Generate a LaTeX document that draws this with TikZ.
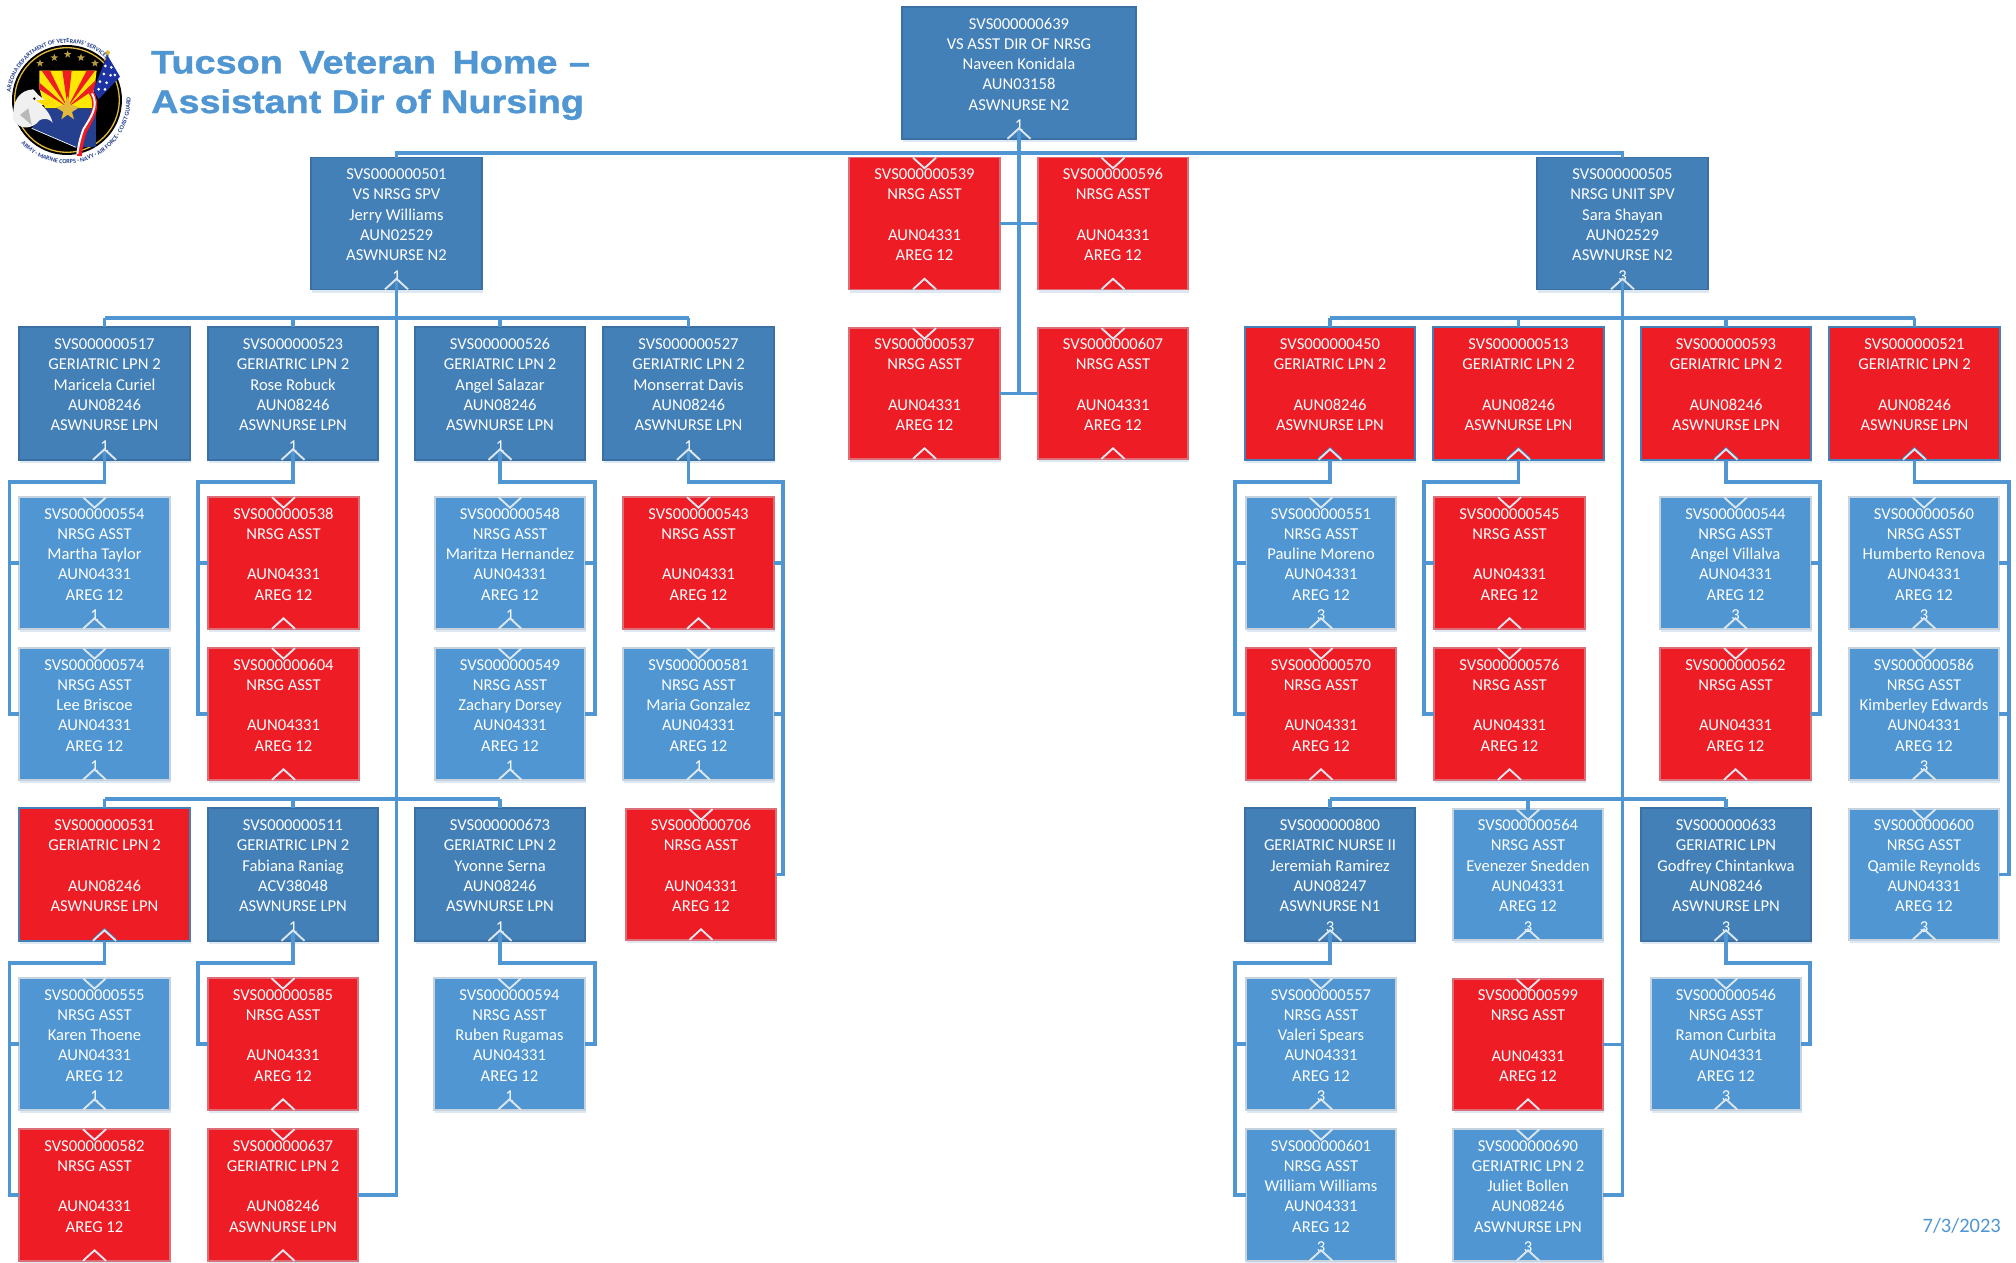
\documentclass[tikz,border=0pt]{standalone}
\usepackage{fontspec}
\setmainfont{Carlito}
\newfontfamily\titlefont[FakeStretch=1.16,FakeBold=1.2]{Liberation Sans}
\usetikzlibrary{shadows,decorations.text}
\definecolor{cdark}{HTML}{4480B8}
\definecolor{clight}{HTML}{5096D2}
\definecolor{cred}{HTML}{EE1C25}
\definecolor{cline}{HTML}{5096D2}
\definecolor{cedgeD}{HTML}{3A70A4}
\definecolor{cedgeL}{HTML}{C6D2DE}
\definecolor{cchev}{HTML}{DCE6EF}
\definecolor{cnavy}{HTML}{24408E}
\definecolor{cgold}{HTML}{E3B93C}
\definecolor{cstar}{HTML}{B79A45}
\tikzset{
  boxbase/.style={rectangle,inner sep=0pt,outer sep=0pt,text=white,align=center,line width=1.2pt,
    font=\fontsize{16.6}{20.3}\selectfont,
    drop shadow={shadow xshift=1pt,shadow yshift=-3pt,fill=cdark,opacity=.18}},
  bdark/.style={boxbase,fill=cdark,draw=cedgeD},
  blight/.style={boxbase,fill=clight,draw=cedgeL},
  bred/.style={boxbase,fill=cred,draw=cred!55!cedgeL},
  bredp/.style={boxbase,fill=cred,draw=cdark},
  conn/.style={draw=cline,line width=3.5pt,line cap=butt,line join=miter},
  chev/.style={draw=cchev,line width=1.9pt,line join=miter},
  chevb/.style={draw=cdark,line width=1.2pt,line join=miter},
  datelabel/.style={text=cline,font=\fontsize{20.5}{24}\selectfont,inner sep=0pt,anchor=base east},
  titlelabel/.style={text=clight,font=\titlefont\bfseries\fontsize{32.6}{38}\selectfont,inner sep=0pt,anchor=base west},
  seal/.style={postaction={decorate},decoration={text along path,text align=center,raise=0pt}}
}
\newcommand\lsx{\rule[-3.35pt]{0pt}{20.3pt}}
\newcommand\six[6]{\lsx#1\\\lsx#2\\\lsx#3\\\lsx#4\\\lsx#5\\\lsx#6}
% \bx{id}{x1}{x2}{y1}{y2}{style}{text}
\newcommand\bx[7]{%
  \pgfmathsetmacro\bxw{#3-#2}\pgfmathsetmacro\bxh{#5-#4}%
  \pgfmathsetmacro\bxx{(#2+#3)/2}\pgfmathsetmacro\bxy{(#4+#5)/2}%
  \node[#6,minimum width=\bxw pt,minimum height=\bxh pt] (n#1) at (\bxx,\bxy) {#7};}
\newcommand\ra[5]{\bx{#1}{#2}{#3}{#4}{#5}{bred}{\six{SVS000000#1}{NRSG ASST}{}{AUN04331}{AREG 12}{}}}
\newcommand\la[7]{\bx{#1}{#2}{#3}{#4}{#5}{blight}{\six{SVS000000#1}{NRSG ASST}{#6}{AUN04331}{AREG 12}{#7}}}
\newcommand\lpn[7]{\bx{#1}{#2}{#3}{#4}{#5}{bdark}{\six{SVS000000#1}{GERIATRIC LPN 2}{#6}{AUN08246}{ASWNURSE LPN}{#7}}}
\newcommand\rpn[6]{\bx{#1}{#2}{#3}{#4}{#5}{#6}{\six{SVS000000#1}{GERIATRIC LPN 2}{}{AUN08246}{ASWNURSE LPN}{}}}
% \sub{parent}{last}{others}{x}{y}{side}
\newcommand\sub[6]{%
  \coordinate (tr#1) at (#4,#5);
  \draw[conn] (n#1.south) |- (tr#1) |- (n#2.#6);
  \foreach \k in {#3} {\draw[conn] (n\k.#6) -- (n\k.#6 -| tr#1);}}
\begin{document}
\begin{tikzpicture}[x=1pt,y=-1pt]
\useasboundingbox (0,0) rectangle (2016,1263);
\fill[white] (0,0) rectangle (2016,1263);

% ---- seal (drawn in the pixel grid of a 3x view of it)
\begin{scope}[shift={(0,30)},x=.3333pt,y=-.3333pt]
  \fill[black] (201,210) circle (165);
  \draw[cgold,line width=1.3pt] (201,210) circle (157);
  \foreach \sx/\sy in {120/100,163/83,203/73,243/83,285/100} {
    \begin{scope}[shift={(\sx,\sy)}]
      \fill[cstar] (270:12) -- (306:5) -- (342:12) -- (18:5) -- (54:12) -- (90:5) -- (126:12) -- (162:5) -- (198:12) -- (234:5) -- cycle;
    \end{scope}}
  \fill[yellow!90!orange] (118,122) -- (290,122) -- (276,235) -- (135,235) -- (118,175) -- cycle;
  \fill[cred] (203,232) -- (187,122) -- (215,122) -- cycle;
  \fill[cred] (203,232) -- (125,122) -- (150,122) -- cycle;
  \fill[cred] (203,232) -- (118,158) -- (118,178) -- cycle;
  \fill[cred] (203,232) -- (260,122) -- (285,122) -- cycle;
  \fill[cred] (203,232) -- (288,150) -- (284,178) -- cycle;
  \fill[cnavy] (135,235) -- (288,235) -- (288,350) -- (228,352) -- (95,295) -- cycle;
  \draw[white,line width=.7pt] (95,295) -- (228,352);
  \fill[cgold] (203,198) -- (212,224) -- (238,232) -- (216,246) -- (222,268) -- (203,254) -- (184,268) -- (190,246) -- (168,232) -- (194,224) -- cycle;
  \fill[gray!12] (100,178) .. controls (60,180) and (35,210) .. (40,270) .. controls (60,300) and (95,300) .. (120,270) .. controls (140,262) and (150,270) .. (158,278) .. controls (150,250) and (135,235) .. (125,225) -- (150,222) -- (115,195) -- cycle;
  \fill[gray!55] (60,255) -- (85,235) -- (95,285) -- cycle;
  \fill[yellow!80!orange] (108,212) -- (150,208) -- (168,226) -- (135,228) -- cycle;
  \fill[black] (103,206) circle (4);
  \draw[cgold,line width=1pt] (323,68) -- (312,92);
  \fill[cgold] (323,68) circle (7);
  \fill[cnavy!80!blue] (322,75) -- (360,140) -- (296,208) -- (280,180) -- cycle;
  \foreach \sx/\sy in {316/108,334/112,312/132,332/136,300/155,320/158,345/135,296/178,315/178} {\fill[white] (\sx,\sy) circle (4.5);}
  \draw[cred,line width=5pt] (272,185) .. controls (300,225) and (275,265) .. (255,300) .. controls (245,325) and (240,350) .. (238,378);
  \draw[white,line width=2pt] (276,190) .. controls (298,228) and (272,262) .. (250,298) .. controls (240,325) and (235,350) .. (232,372);
\end{scope}
\begin{scope}[shift={(67,100)},x=1pt,y=1pt]
  \path[seal,decoration={text={|\color{cnavy}\bfseries\fontsize{6.2}{7}\selectfont|ARIZONA DEPARTMENT OF VETERANS' SERVICES}}]
    (188:57) arc (188:30:57);
  \path[seal,decoration={text={|\color{cnavy}\bfseries\fontsize{6.2}{7}\selectfont|ARMY · MARINE CORPS · NAVY · AIR FORCE · COAST GUARD}}]
    (218:63.5) arc (218:368:63.5);
\end{scope}

\node[titlelabel] (title1) at (151,73.5) {Tucson\hspace{6pt} Veteran\hspace{6pt} Home\hspace{1pt} –};
\node[titlelabel] (title2) at (151,113) {Assistant Dir of Nursing};
\node[datelabel] (date) at (2001,1232) {7/3/2023};

% ---- boxes
\bx{639}{902}{1136}{7}{139}{bdark}{\six{SVS000000639}{VS ASST DIR OF NRSG}{Naveen Konidala}{AUN03158}{ASWNURSE N2}{1}}
\bx{501}{311}{482}{157.5}{289.5}{bdark}{\six{SVS000000501}{VS NRSG SPV}{Jerry Williams}{AUN02529}{ASWNURSE N2}{1}}
\bx{505}{1537}{1708}{157.5}{289.5}{bdark}{\six{SVS000000505}{NRSG UNIT SPV}{Sara Shayan}{AUN02529}{ASWNURSE N2}{3}}
\ra{539}{849}{1000}{157.5}{289.5}
\ra{596}{1038}{1188}{157.5}{289.5}
\ra{537}{849}{1000}{328}{459}
\ra{607}{1038}{1188}{328}{459}

\lpn{517}{19}{190}{327}{460}{Maricela Curiel}{1}
\lpn{523}{208}{378}{327}{460}{Rose Robuck}{1}
\lpn{526}{415}{585}{327}{460}{Angel Salazar}{1}
\lpn{527}{603}{774}{327}{460}{Monserrat Davis}{1}
\rpn{450}{1245}{1415}{327}{460}{bredp}
\rpn{513}{1433}{1604}{327}{460}{bredp}
\rpn{593}{1641}{1811}{327}{460}{bredp}
\rpn{521}{1829}{2000}{327}{460}{bredp}

\la{554}{19}{170}{497}{629}{Martha Taylor}{1}
\ra{538}{208}{359}{497}{629}
\la{548}{435}{585}{497}{629}{Maritza Hernandez}{1}
\ra{543}{623}{774}{497}{629}
\la{551}{1246}{1396}{497}{629}{Pauline Moreno}{3}
\ra{545}{1434}{1585}{497}{629}
\la{544}{1660}{1811}{497}{629}{Angel Villalva}{3}
\la{560}{1849}{1999}{497}{629}{Humberto Renova}{3}

\la{574}{19}{170}{648}{780}{Lee Briscoe}{1}
\ra{604}{208}{359}{648}{780}
\la{549}{435}{585}{648}{780}{Zachary Dorsey}{1}
\la{581}{623}{774}{648}{780}{Maria Gonzalez}{1}
\ra{570}{1246}{1396}{648}{780}
\ra{576}{1434}{1585}{648}{780}
\ra{562}{1660}{1811}{648}{780}
\la{586}{1849}{1999}{648}{780}{Kimberley Edwards}{3}

\rpn{531}{19}{190}{808}{941}{bredp}
\bx{511}{208}{378}{808}{941}{bdark}{\six{SVS000000511}{GERIATRIC LPN 2}{Fabiana Raniag}{ACV38048}{ASWNURSE LPN}{1}}
\lpn{673}{415}{585}{808}{941}{Yvonne Serna}{1}
\ra{706}{626}{776}{809}{940}
\bx{800}{1245}{1415}{808}{941}{bdark}{\six{SVS000000800}{GERIATRIC NURSE II}{Jeremiah Ramirez}{AUN08247}{ASWNURSE N1}{3}}
\la{564}{1453}{1603}{809}{940}{Evenezer Snedden}{3}
\bx{633}{1641}{1811}{808}{941}{bdark}{\six{SVS000000633}{GERIATRIC LPN}{Godfrey Chintankwa}{AUN08246}{ASWNURSE LPN}{3}}
\la{600}{1849}{1999}{809}{940}{Qamile Reynolds}{3}

\la{555}{19}{170}{978}{1110}{Karen Thoene}{1}
\ra{585}{208}{358}{978}{1110}
\la{594}{434}{585}{978}{1110}{Ruben Rugamas}{1}
\la{557}{1246}{1396}{978}{1110}{Valeri Spears}{3}
\ra{599}{1453}{1603}{979}{1110}
\la{546}{1651}{1801}{978}{1110}{Ramon Curbita}{3}

\ra{582}{19}{170}{1129}{1261}
\rpn{637}{208}{358}{1129}{1261}{bred}
\la{601}{1246}{1396}{1129}{1261}{William Williams}{3}
\bx{690}{1453}{1603}{1129}{1261}{blight}{\six{SVS000000690}{GERIATRIC LPN 2}{Juliet Bollen}{AUN08246}{ASWNURSE LPN}{3}}

% ---- connectors
\coordinate (bus0) at (0,153);
\coordinate (bus1) at (0,318);
\coordinate (bus2) at (0,799);
\draw[conn] (n501.north) -- (n501.north |- bus0) -- (n505.north |- bus0) -- (n505.north);
\draw[conn] (n639.south) -- (n639.south |- n537.east);
\draw[conn] (n539.east) -- (n596.west);
\draw[conn] (n537.east) -- (n607.west);

\draw[conn] (n501.south) |- (n637.east);
\draw[conn] (n505.south) |- (n690.east);
\draw[conn] (n599.east) -- (n599.east -| n505.south);

\draw[conn] (n517.north |- bus1) -- (n527.north |- bus1);
\draw[conn] (n531.north |- bus2) -- (n673.north |- bus2);
\draw[conn] (n450.north |- bus1) -- (n521.north |- bus1);
\draw[conn] (n800.north |- bus2) -- (n633.north |- bus2);
\foreach \n in {517,523,526,527,450,513,593,521} {\draw[conn] (n\n.north |- bus1) -- (n\n.north);}
\foreach \n in {531,511,673,800,564,633} {\draw[conn] (n\n.north |- bus2) -- (n\n.north);}

\sub{517}{574}{554}{9.5}{482}{west}
\sub{523}{604}{538}{198}{482}{west}
\sub{526}{549}{548}{595}{482}{east}
\sub{527}{706}{543,581}{783}{482}{east}
\sub{450}{570}{551}{1235}{482}{west}
\sub{513}{576}{545}{1424}{482}{west}
\sub{593}{562}{544}{1820}{482}{east}
\sub{521}{600}{560,586}{2009}{482}{east}
\sub{531}{582}{555}{9.5}{963}{west}
\sub{511}{585}{585}{198}{963}{west}
\sub{673}{594}{594}{595}{963}{east}
\sub{800}{601}{557}{1235}{963}{west}
\sub{633}{546}{546}{1810}{963}{east}

% ---- chevrons
\foreach \n in {639,501,505,517,523,526,527,511,673,800,633} {
  \draw[conn] (n\n.south) -- ++(0,-10);}
\draw[conn] (n564.north) -- ++(0,10);
\foreach \n in {450,513,593,521,531} {
  \draw[chevb] (n\n.south) ++(-11.5,-1.8) -- ++(11.5,-10.5) -- ++(11.5,10.5);}
\foreach \n in {639,501,505,517,523,526,527,511,673,800,633,450,513,593,521,531,
                539,596,537,607,554,538,548,543,551,545,544,560,574,604,549,581,570,576,562,586,
                706,564,600,555,585,594,557,599,546,582,637,601,690} {
  \draw[chev] (n\n.south) ++(-11.5,-.2) -- ++(11.5,-10.5) -- ++(11.5,10.5);}
\foreach \n in {539,596,537,607,554,538,548,543,551,545,544,560,574,604,549,581,570,576,562,586,
                706,564,600,555,585,594,557,599,546,582,637,601,690} {
  \draw[chev] (n\n.north) ++(-11.5,.2) -- ++(11.5,10.5) -- ++(11.5,-10.5);}
\end{tikzpicture}
\end{document}
